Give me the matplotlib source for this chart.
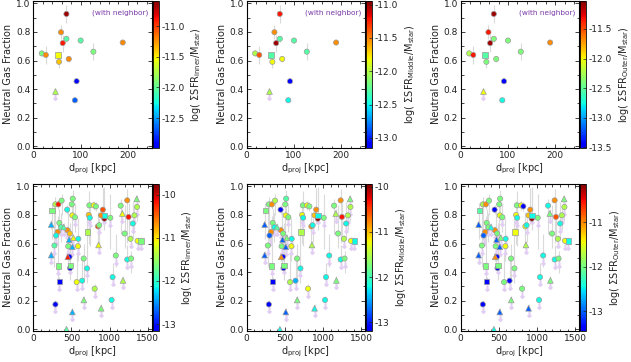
import matplotlib
matplotlib.use('Agg')
import matplotlib.pyplot as plt
import numpy as np
from matplotlib.colors import ListedColormap
from matplotlib.ticker import MultipleLocator, FormatStrFormatter

plt.rcParams['font.family'] = 'DejaVu Sans'
plt.rcParams['axes.linewidth'] = 0.8

# ---- top row: galaxies with a neighbour ----
top_d = [70, 58.6, 70, 62.2, 100, 189, 17.9, 26.5, 52.2, 54.3, 75, 127, 91.5, 87.9, 46.5]
top_f = [0.926, 0.798, 0.752, 0.722, 0.740, 0.726, 0.650, 0.639, 0.637, 0.591,
         0.611, 0.662, 0.455, 0.322, 0.384]
top_mk = "oooooooosooooo^"
top_elo = [0.06, 0.05, 0.02, 0.06, 0.02, 0.01, 0.02, 0.065, 0.02, 0.04, 0.02, 0.06, 0.0, 0.0, 0.0]
top_ehi = [0.06, 0.05, 0.02, 0.06, 0.02, 0.01, 0.02, 0.065, 0.02, 0.04, 0.02, 0.06, 0.0, 0.0, 0.0]
top_lim = [0, 0, 0, 0, 0, 0, 0, 0, 0, 0, 0, 0, 0, 0, 1]
top_inner = [-10.66, -11.22, -12.05, -10.90, -12.05, -11.22, -11.92, -11.22, -11.54, -11.38,
             -11.22, -11.92, -12.91, -12.67, -11.76]
top_middle = [-11.23, -11.53, -12.29, -11.01, -12.29, -11.53, -12.02, -11.38, -12.29, -11.82,
              -11.82, -12.29, -13.08, -12.49, -12.02]
top_outer = [-11.10, -11.35, -12.40, -11.10, -12.40, -11.68, -12.24, -11.35, -12.54, -12.40,
             -12.40, -12.40, -13.43, -12.76, -12.02]

# ---- bottom row: isolated galaxies ----
bot_d = [243, 290, 329, 371, 444, 517, 504, 512, 546, 235,
         341, 363, 320, 299, 397, 448, 478, 470, 525, 277,
         457, 512, 589, 585, 235, 452, 474, 482, 329, 487,
         341, 568, 640, 660, 704, 662, 290, 512, 435, 713,
         726, 735, 740, 791, 821, 911, 889, 932, 932, 847,
         864, 1009, 855, 1145, 1231, 1355, 1359, 1167, 1248, 1325,
         1303, 1197, 1274, 1367, 1410, 1081, 1231, 1282, 1039, 1175,
         804, 1026, 889]
bot_f = [0.833, 0.874, 0.874, 0.900, 0.837, 0.914, 0.874, 0.797, 0.784, 0.733,
         0.744, 0.714, 0.681, 0.656, 0.715, 0.693, 0.670, 0.628, 0.640, 0.586,
         0.581, 0.577, 0.633, 0.581, 0.519, 0.507, 0.507, 0.428, 0.442, 0.447,
         0.333, 0.330, 0.340, 0.495, 0.426, 0.205, 0.174, 0.121, 0.000, 0.680,
         0.800, 0.867, 0.780, 0.867, 0.860, 0.837, 0.797, 0.797, 0.774, 0.720,
         0.728, 0.780, 0.590, 0.865, 0.902, 0.912, 0.856, 0.810, 0.786, 0.797,
         0.740, 0.670, 0.633, 0.619, 0.619, 0.516, 0.488, 0.495, 0.365, 0.342,
         0.284, 0.205, 0.147]
bot_mk = ("soooooooo^" "oooo^oo^^o" "o^oo^^ooss" "soooo^o^^s" "ooooooosoo"
          "oo^oo^o^oo" "oooosoooo^" "oo^")
bot_elo = [.20, .25, .03, .10, .03, .15, .30, .03, .10, .03,
           .05, .10, .10, .03, .03, .03, .03, .03, .03, .15,
           .15, .03, .03, .10, .03, .03, .03, .03, .10, .10,
           .03, .05, .05, .15, .10, .03, .03, .03, .00, .03,
           .20, .10, .20, .03, .03, .10, .03, .10, .05, .15,
           .12, .22, .03, .20, .30, .03, .10, .03, .15, .10,
           .10, .10, .03, .03, .03, .08, .05, .10, .05, .03,
           .03, .03, .03]
bot_ehi = [.05, .05, .03, .05, .03, .06, .05, .03, .10, .03,
           .10, .10, .05, .03, .03, .03, .03, .03, .03, .29,
           .25, .03, .03, .20, .03, .03, .03, .03, .35, .30,
           .03, .20, .15, .10, .35, .03, .03, .03, .00, .03,
           .10, .10, .10, .03, .03, .15, .03, .20, .20, .10,
           .05, .17, .03, .05, .08, .03, .05, .03, .10, .05,
           .15, .20, .03, .03, .03, .15, .10, .05, .10, .03,
           .03, .03, .03]
bot_lim = [0, 0, 0, 0, 0, 0, 0, 0, 1, 0,
           1, 1, 0, 1, 1, 1, 1, 1, 1, 1,
           1, 1, 1, 1, 1, 0, 0, 0, 1, 1,
           1, 1, 1, 0, 1, 1, 1, 1, 0, 0,
           1, 0, 1, 0, 0, 0, 0, 1, 0, 0,
           1, 1, 1, 0, 0, 1, 1, 1, 0, 1,
           1, 0, 1, 1, 1, 1, 1, 1, 1, 1,
           1, 1, 1]
bot_inner = [-11.64, -11.41, -10.19, -11.64, -12.13, -11.64, -11.64, -11.11, -11.64, -12.40,
             -11.64, -11.83, -10.65, -12.13, -11.83, -10.65, -10.88, -12.40, -11.11, -11.83,
             -11.64, -12.40, -12.13, -11.11, -12.40, -10.19, -13.05, -13.05, -11.64, -11.64,
             -13.05, -11.11, -12.13, -11.64, -12.13, -11.64, -13.05, -12.40, -11.83, -11.41,
             -10.88, -11.64, -12.13, -11.11, -11.64, -10.42, -10.65, -12.13, -9.85, -10.42,
             -11.64, -11.64, -11.11, -11.64, -10.65, -11.64, -11.41, -11.11, -10.19, -11.41,
             -12.13, -11.64, -11.41, -11.11, -11.64, -11.64, -12.13, -11.64, -12.13, -11.41,
             -11.41, -12.13, -11.64]
bot_middle = [-11.74, -11.74, -10.80, -11.52, -13.08, -11.92, -11.74, -11.23, -11.74, -12.76,
              -11.74, -12.21, -10.80, -12.76, -11.92, -10.80, -11.74, -12.76, -11.74, -11.74,
              -11.74, -12.76, -12.21, -11.23, -12.76, -10.80, -13.08, -13.08, -11.74, -11.74,
              -13.08, -11.52, -12.47, -11.74, -12.21, -11.74, -13.08, -12.76, -12.21, -11.52,
              -11.23, -11.74, -12.21, -11.23, -11.74, -10.80, -11.02, -12.21, -10.04, -10.80,
              -12.21, -11.74, -11.52, -11.74, -10.80, -11.74, -11.52, -11.52, -10.36, -11.52,
              -12.21, -11.74, -11.52, -11.23, -12.21, -12.21, -12.21, -11.74, -12.21, -11.74,
              -11.23, -12.21, -12.21]
bot_outer = [-12.16, -11.75, -11.02, -11.98, -13.34, -11.98, -11.98, -11.46, -11.98, -13.01,
             -11.98, -11.98, -11.02, -13.01, -12.45, -11.02, -11.98, -13.01, -11.98, -11.98,
             -11.98, -13.01, -12.45, -11.46, -13.01, -11.02, -13.34, -13.34, -11.98, -11.98,
             -13.34, -11.98, -13.34, -11.98, -11.98, -11.98, -13.34, -13.01, -12.45, -11.46,
             -11.46, -11.98, -12.45, -11.46, -13.34, -11.02, -11.24, -12.45, -10.24, -11.46,
             -12.45, -11.98, -11.75, -12.45, -11.02, -11.98, -11.75, -11.98, -10.79, -11.75,
             -12.45, -11.98, -11.75, -11.46, -12.45, -12.45, -12.45, -11.98, -12.45, -11.98,
             -11.98, -12.45, -13.01]

regions = ['inner', 'Middle', 'Outer']
top_cranges = [(-12.99, -10.58), (-13.15, -10.94), (-13.51, -11.02)]
bot_cranges = [(-13.16, -9.74), (-13.19, -9.93), (-13.45, -10.13)]

cmap = ListedColormap(plt.get_cmap('jet')(np.linspace(0.1, 1.0, 256)))

W, H = 631, 362
fig = plt.figure(figsize=(W / 100, H / 100), dpi=100)


def px_axes(x0, y0, w, h):
    return fig.add_axes([x0 / W, 1 - (y0 + h) / H, w / W, h / H])


def panel(x0, y0, d, f, mk, elo, ehi, lim, c, crange, region, xmax, xstep, xminor,
          cstep, cfmt, neighbor):
    ax = px_axes(x0, y0, 118.3, 147.5)
    d = np.array(d, float)
    f = np.array(f, float)
    c = np.array(c, float)
    mk = np.array(list(mk))
    lim = np.array(lim, bool)
    ax.errorbar(d, f, yerr=[elo, ehi], fmt='none', ecolor='#dadada', elinewidth=0.8, zorder=1)
    ax.plot(d[lim], f[lim] - 0.042, ls='none', marker=r'$\downarrow$', ms=4,
            color='#e2cdf3', zorder=1.5)
    sc = None
    for m, s in (('o', 14), ('s', 15), ('^', 17)):
        sel = mk == m
        sc = ax.scatter(d[sel], f[sel], c=c[sel], marker=m, s=s, cmap=cmap,
                        vmin=crange[0], vmax=crange[1], edgecolors='#9a9a9a',
                        linewidths=0.5, zorder=3)
    ax.set_xlim(0, xmax)
    ax.set_ylim(-0.012, 1.02)
    ax.xaxis.set_major_locator(MultipleLocator(xstep))
    ax.xaxis.set_minor_locator(MultipleLocator(xminor))
    ax.yaxis.set_major_locator(MultipleLocator(0.2))
    ax.yaxis.set_minor_locator(MultipleLocator(0.1))
    ax.yaxis.set_major_formatter(FormatStrFormatter('%.1f'))
    ax.tick_params(direction='in', top=True, right=True, length=3, width=0.6,
                   labelsize=6.5, pad=2, colors='#222222')
    ax.tick_params(which='minor', direction='in', top=True, right=True, length=1.8, width=0.5)
    ax.set_xlabel(r'd$_{\rm proj}$ [kpc]', fontsize=7, labelpad=1, color='#222222')
    ax.set_ylabel('Neutral Gas Fraction', fontsize=7, labelpad=2, color='#222222')
    if neighbor:
        ax.text(0.97, 0.915, '(with neighbor)', transform=ax.transAxes, ha='right',
                va='center', fontsize=5.3, color='#7a3aa8')

    cax = px_axes(x0 + 119.5, y0, 6, 147.5)
    cb = fig.colorbar(sc, cax=cax)
    cb.outline.set_linewidth(0.6)
    cb.ax.yaxis.set_major_locator(MultipleLocator(cstep))
    cb.ax.yaxis.set_major_formatter(FormatStrFormatter(cfmt))
    cb.ax.tick_params(direction='in', length=2, width=0.5, labelsize=6.5, pad=2,
                      colors='#222222')
    cb.set_label(r'log( $\Sigma$SFR$_{\rm ' + region + r'}$/M$_{\rm star}$)',
                 fontsize=7, labelpad=3, color='#222222')
    return ax


cols = [33.3, 246.7, 460.7]
top_c = [top_inner, top_middle, top_outer]
bot_c = [bot_inner, bot_middle, bot_outer]
for i in range(3):
    panel(cols[i], 0.5, top_d, top_f, top_mk, top_elo, top_ehi, top_lim, top_c[i],
          top_cranges[i], regions[i], 250, 100, 20, 0.5, '%.1f', True)
    panel(cols[i], 183.5, bot_d, bot_f, bot_mk, bot_elo, bot_ehi, bot_lim, bot_c[i],
          bot_cranges[i], regions[i], 1550, 500, 100, 1.0, '%.0f', False)

fig.savefig('out.png', dpi=100)
